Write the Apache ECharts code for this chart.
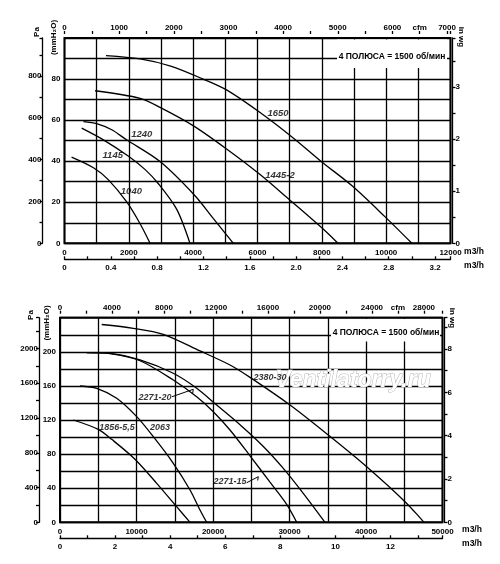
<!DOCTYPE html>
<html>
<head>
<meta charset="utf-8">
<script src="https://cdn.jsdelivr.net/npm/echarts@6/dist/echarts.min.js"></script>
<style>
  html, body { margin: 0; padding: 0; background: #fff; }
  #chart { width: 500px; height: 564px; }
</style>
</head>
<body>
<div id="chart"></div>
<script>
// unit conversions
var PA_PER_MM = 9.80665, MM_PER_INWG = 25.4, M3H_PER_CFM = 1.69901, S_PER_H = 3600;

// upper chart: flow m3/h, pressure mmH2O
var topFlowMax = 12000, topPresMax = 100;
var q1650 = [1290, 2350, 3300, 4310, 5050, 6080, 7120, 7970, 8940, 9960, 10800];
var h1650 = [91.4, 89.8, 86.3, 80, 74.6, 63.7, 51.2, 40, 28, 13, 0];
var q1445 = [950, 2350, 2970, 4010, 5060, 6080, 7010, 8050, 8500];
var h1445 = [74.3, 70.6, 66.2, 57.2, 45.7, 33.5, 21, 6.8, 0];
var q1240 = [590, 1000, 1470, 1930, 2970, 4050, 4630, 5250];
var h1240 = [59.3, 58.3, 55.3, 50.4, 39.8, 23.3, 12, 0];
var q1145 = [535, 1210, 1980, 2500, 2920, 3490, 3900];
var h1145 = [56.1, 50.4, 42.5, 36, 29, 16.5, 0];
var q1040 = [220, 900, 1360, 1940, 2350, 2660];
var h1040 = [42, 36.8, 31, 20, 9.5, 0];
var topNames = ['1650', '1445-2', '1240', '1145', '1040'];
var topLabelQ = [6640, 6700, 2400, 1500, 2080];
var topLabelH = [63.5, 33.3, 53.2, 43, 25.5];

// lower chart
var botFlowMax = 50000, botPresMax = 240;
var q2380 = [5450, 9580, 13500, 18300, 22220, 24840, 30070, 35070, 40090, 45100, 47580];
var h2380 = [232, 227.6, 220.5, 201, 184.5, 170, 137.6, 102.4, 65.2, 24.2, 0];
var q2271a = [3490, 6540, 10460, 14810, 17870, 20480, 23530, 26580, 29190, 31800, 34640];
var h2271a = [199, 198.2, 190.4, 174.8, 157.2, 137.6, 114.5, 89, 63.3, 34, 0];
var q2271b = [3490, 6540, 10460, 14810, 17870, 20040, 22220, 24840, 27450, 29630, 30940];
var h2271b = [199, 197.8, 189.5, 166.9, 147.3, 129.7, 108.3, 78, 47, 21, 0];
var q2063 = [2610, 4800, 7410, 10030, 12200, 14810, 17000, 18300, 19170];
var h2063 = [159.9, 157.2, 145.5, 123.9, 100.4, 69.2, 37.9, 14.4, 0];
var q1856 = [1740, 5000, 6800, 9800, 12640, 15250, 17000];
var h1856 = [120, 109, 97, 74, 45.7, 18.3, 0];
var botNames = ['2380-30', '2271-20', '2271-15', '2063', '1856-5,5'];
var botLabelQ = [27450, 12420, 22220, 13070, 7450];
var botLabelH = [170, 146.6, 47.6, 111, 111];
// leader lines from labels 2271-20 and 2271-15 to their curves
var lead20Q = [14640, 17420, 17340], lead20H = [147.3, 156, 151];
var lead15Q = [24400, 25920, 25840], lead15H = [46.4, 53.5, 49];

var poles = '4 ПОЛЮСА = 1500 об/мин';
var FONT = 'Liberation Sans';

function pairs(q, h) {
  return q.map(function (v, i) { return [v, h[i]]; });
}
function near(v, step) {
  return Math.abs(v / step - Math.round(v / step)) < 1e-6;
}

var tickLabel = { color: '#000', fontSize: 8, fontWeight: 'bold', fontFamily: FONT };
var black = { color: '#000', width: 1.3 };

function xAxes(grid, flowMax, gridStep, labelStep, m3sStep, m3sLabel, cfmStep, cfmLabel, cfmName) {
  return [
    { gridIndex: grid, type: 'value', position: 'bottom', min: 0, max: flowMax, interval: gridStep,
      axisLine: { show: false, onZero: false }, axisTick: { show: false },
      splitLine: { show: true, lineStyle: black },
      axisLabel: Object.assign({ margin: 5, showMaxLabel: true,
        formatter: function (v) { return near(v, labelStep) ? String(v) : ''; } }, tickLabel) },
    { gridIndex: grid, type: 'value', position: 'bottom', offset: 16, min: 0, max: flowMax / S_PER_H, interval: m3sStep,
      axisLine: { show: true, onZero: false, lineStyle: black },
      axisTick: { show: true, inside: true, length: 3, lineStyle: black },
      splitLine: { show: false },
      axisLabel: Object.assign({ margin: 4, showMaxLabel: true,
        formatter: function (v) {
          if (!near(v, m3sLabel)) return '';
          return v === 0 ? '0' : (m3sLabel < 1 ? v.toFixed(1) : String(Math.round(v)));
        } }, tickLabel) },
    { gridIndex: grid, type: 'value', position: 'top', offset: 4, min: 0, max: flowMax / M3H_PER_CFM, interval: cfmStep,
      axisLine: { show: false, onZero: false }, axisTick: { show: true, length: 3, lineStyle: black },
      splitLine: { show: false },
      axisLabel: Object.assign({ margin: 2, showMaxLabel: true,
        formatter: function (v) {
          if (Math.abs(v - cfmName) < 1e-6) return 'cfm';
          return near(v, cfmLabel) ? String(v) : '';
        } }, tickLabel) }
  ];
}

function yAxes(grid, presMax, gridStep, labelStep, paStep, paLabel, paOffset, wgStep, wgLabel) {
  return [
    { gridIndex: grid, type: 'value', position: 'left', min: 0, max: presMax, interval: gridStep,
      axisLine: { show: false, onZero: false }, axisTick: { show: false },
      splitLine: { show: true, lineStyle: black },
      axisLabel: Object.assign({ margin: 4,
        formatter: function (v) { return (near(v, labelStep) && v < presMax) ? String(v) : ''; } }, tickLabel) },
    { gridIndex: grid, type: 'value', position: 'left', offset: paOffset, min: 0, max: presMax * PA_PER_MM, interval: paStep,
      axisLine: { show: true, onZero: false, lineStyle: black },
      axisTick: { show: true, length: 3, lineStyle: black },
      splitLine: { show: false },
      axisLabel: Object.assign({ margin: 1,
        formatter: function (v) { return near(v, paLabel) ? String(v) : ''; } }, tickLabel) },
    { gridIndex: grid, type: 'value', position: 'right', offset: 2, min: 0, max: presMax / MM_PER_INWG, interval: wgStep,
      axisLine: { show: true, onZero: false, lineStyle: black },
      axisTick: { show: true, length: 3, lineStyle: black },
      splitLine: { show: false },
      axisLabel: Object.assign({ margin: 3,
        formatter: function (v) { return near(v, wgLabel) ? String(Math.round(v)) : ''; } }, tickLabel) }
  ];
}

function curve(q, h, xi, yi) {
  return { type: 'line', xAxisIndex: xi, yAxisIndex: yi, data: pairs(q, h), smooth: 0.3,
    showSymbol: false, symbol: 'none', lineStyle: { color: '#000', width: 1.3 }, silent: true, z: 3 };
}
function labels(names, q, h, xi, yi, size) {
  return { type: 'scatter', xAxisIndex: xi, yAxisIndex: yi, symbolSize: 1, itemStyle: { color: 'rgba(0,0,0,0)' },
    data: names.map(function (n, i) { return { name: n, value: [q[i], h[i]] }; }),
    label: { show: true, position: 'inside', formatter: '{b}', color: '#000', fontSize: size,
      fontStyle: 'italic', fontWeight: 'bold', fontFamily: FONT }, silent: true, z: 4 };
}
function leader(q, h, xi, yi) {
  return { type: 'line', xAxisIndex: xi, yAxisIndex: yi, data: pairs(q, h), showSymbol: false, symbol: 'none',
    lineStyle: { color: '#000', width: 1 }, silent: true, z: 3 };
}

function txt(x, y, s, size, opts) {
  return Object.assign({ type: 'text', x: x, y: y, z: 12, silent: true,
    style: { text: s, fill: '#000', fontSize: size, fontWeight: 'bold', fontFamily: FONT,
      align: 'center', verticalAlign: 'middle', textAlign: 'center', textVerticalAlign: 'middle' } }, opts || {});
}

var chart = echarts.init(document.getElementById('chart'));
var option = {
  backgroundColor: '#fff',
  animation: false,
  grid: [
    { left: 64.5, top: 38, width: 386, height: 205.3, show: true, borderColor: '#000', borderWidth: 2, containLabel: false },
    { left: 60, top: 317.7, width: 382.5, height: 204.6, show: true, borderColor: '#000', borderWidth: 2, containLabel: false }
  ],
  xAxis: [].concat(
    xAxes(0, topFlowMax, 1000, 2000, 0.2, 0.4, 500, 1000, 6500),
    xAxes(1, botFlowMax, 5000, 10000, 1, 2, 2000, 4000, 26000)
  ),
  yAxis: [].concat(
    yAxes(0, topPresMax, 10, 20, 100, 200, 22, 0.5, 1),
    yAxes(1, botPresMax, 20, 40, 200, 400, 21, 1, 2)
  ),
  series: [
    curve(q1650, h1650, 0, 0), curve(q1445, h1445, 0, 0), curve(q1240, h1240, 0, 0),
    curve(q1145, h1145, 0, 0), curve(q1040, h1040, 0, 0),
    labels(topNames, topLabelQ, topLabelH, 0, 0, 9.5),
    curve(q2380, h2380, 3, 3), curve(q2271a, h2271a, 3, 3), curve(q2271b, h2271b, 3, 3),
    curve(q2063, h2063, 3, 3), curve(q1856, h1856, 3, 3),
    labels(botNames, botLabelQ, botLabelH, 3, 3, 9),
    leader(lead20Q, lead20H, 3, 3), leader(lead15Q, lead15H, 3, 3)
  ],
  graphic: [
    // gaps in the grid behind the speed note
    { type: 'rect', z: 10, silent: true, shape: { x: 337, y: 39.5, width: 110, height: 28.5 }, style: { fill: '#fff' } },
    { type: 'rect', z: 10, silent: true, shape: { x: 331, y: 319, width: 109, height: 22.5 }, style: { fill: '#fff' } },
    txt(392, 57, poles, 8.5),
    txt(386, 333, poles, 8.5),
    // watermark
    { type: 'text', x: 353, y: 381, z: 1, silent: true,
      style: { text: 'Ventilatorry.ru', fill: '#fff', stroke: '#b4b4b4', lineWidth: 1, fontSize: 23,
        fontWeight: 'bold', fontStyle: 'italic', fontFamily: FONT,
        align: 'center', verticalAlign: 'middle', textAlign: 'center', textVerticalAlign: 'middle' } },
    // axis names
    txt(37, 32, 'Pa', 8, { rotation: Math.PI / 2 }),
    txt(53.5, 37.5, '(mmH\u2082O)', 8, { rotation: Math.PI / 2 }),
    txt(461, 37, 'in wg', 8, { rotation: -Math.PI / 2 }),
    txt(474, 252, 'm3/h', 8.5),
    txt(474, 266, 'm3/h', 8.5),
    txt(31, 315, 'Pa', 8, { rotation: Math.PI / 2 }),
    txt(46.5, 323, '(mmH\u2082O)', 8, { rotation: Math.PI / 2 }),
    txt(452, 318, 'in wg', 8, { rotation: -Math.PI / 2 }),
    txt(472, 530, 'm3/h', 8.5),
    txt(472, 544, 'm3/h', 8.5)
  ]
};
chart.setOption(option);
</script>
</body>
</html>
